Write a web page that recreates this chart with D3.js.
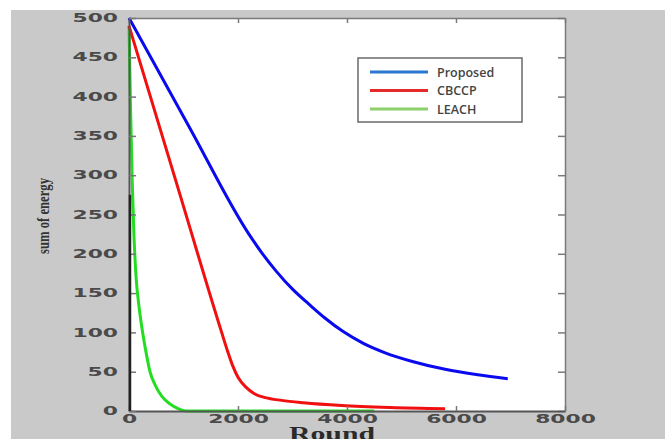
<!DOCTYPE html>
<html><head><meta charset="utf-8">
<script src="https://cdn.jsdelivr.net/npm/d3@7/dist/d3.min.js"></script>
<style>body{margin:0;background:#fff}svg{display:block}</style>
</head><body>
<svg id="c" width="665" height="439"></svg>
<script>
// ---- data ----
const seriesNames = ["Proposed", "CBCCP", "LEACH"];
const proposedRound = [0, 1100, 2200, 2450, 2700, 3000, 3300, 3600, 3930, 4300, 4700, 5200, 5800, 6400, 6950];
const proposedEnergy = [500, 362, 225, 200, 178, 155, 136, 118, 101, 86, 74, 63, 53, 46, 41];
const cbccpRound = [0, 850, 1700, 1800, 1900, 2000, 2150, 2300, 2500, 2800, 3200, 3900, 4800, 5800];
const cbccpEnergy = [490, 295, 100, 78, 58, 43, 30, 22, 17, 13.5, 10.5, 7, 4.5, 3];
const leachRound = [0, 30, 60, 90, 130, 180, 250, 320, 385, 480, 600, 750, 900, 1050, 4500];
const leachEnergy = [490, 380, 290, 225, 170, 135, 100, 72, 50, 33, 19, 9, 3, 0, 0];
const markRound = [0, 0];
const markEnergy = [275, 0];
const xTicks = [0, 2000, 4000, 6000, 8000];
const yTicks = [0, 50, 100, 150, 200, 250, 300, 350, 400, 450, 500];
const xTitle = "Round";
const yTitle = "sum of energy";

const svg = d3.select("#c");
const x = d3.scaleLinear().domain([0, 8000]).range([129, 565]);
const y = d3.scaleLinear().domain([0, 500]).range([411, 18]);

// background panel
svg.append("rect").attr("x", 11).attr("y", 10).attr("width", 654).attr("height", 429).attr("fill", "#c9c9c9");
svg.append("rect").attr("x", x(0)).attr("y", y(500)).attr("width", x(8000) - x(0)).attr("height", y(0) - y(500)).attr("fill", "#fff");

const line = d3.line().x(d => x(d[0])).y(d => y(d[1])).curve(d3.curveMonotoneX);
const zip = (a, b) => a.map((v, i) => [v, b[i]]);
const series = [
  {name: seriesNames[0], pts: zip(proposedRound, proposedEnergy), color: "#0a0aef", legend: "#2a78d0"},
  {name: seriesNames[1], pts: zip(cbccpRound, cbccpEnergy), color: "#f01010", legend: "#e42a2a"},
  {name: seriesNames[2], pts: zip(leachRound, leachEnergy), color: "#22dd22", legend: "#8ed06c"}
];

// frame axes top/right
const gTop = svg.append("g").attr("transform", `translate(0,${y(500)})`)
  .call(d3.axisTop(x).tickValues(xTicks).tickSizeInner(-5).tickSizeOuter(0).tickFormat(""));
const gRight = svg.append("g").attr("transform", `translate(${x(8000)},0)`)
  .call(d3.axisRight(y).tickValues(yTicks).tickSizeInner(-7).tickSizeOuter(0).tickFormat(""));
[gTop, gRight].forEach(g => { g.selectAll("path,line").attr("stroke", "#7a7a7a").attr("stroke-width", 1.5); });

// lines (LEACH under, then CBCCP, then Proposed)
[series[2], series[1], series[0]].forEach(s => {
  svg.append("path").datum(s.pts).attr("d", line).attr("fill", "none")
    .attr("stroke", s.color).attr("stroke-width", 3).attr("stroke-linejoin", "round");
});

// bottom / left axes
const sx = 1.9;
const gx = svg.append("g").attr("transform", `translate(0,${y(0)})`)
  .call(d3.axisBottom(x).tickValues(xTicks).tickSizeInner(-5).tickSizeOuter(0).tickPadding(4).tickFormat(d3.format("d")));
const gy = svg.append("g").attr("transform", `translate(${x(0)},0)`)
  .call(d3.axisLeft(y).tickValues(yTicks).tickSizeInner(-7).tickSizeOuter(0).tickPadding(10).tickFormat(d3.format("d")));
[gx, gy].forEach(g => {
  g.select(".domain").attr("stroke", "#555").attr("stroke-width", 2);
  g.selectAll(".tick line").attr("stroke", "#777").attr("stroke-width", 1.5);
  g.selectAll(".tick text").attr("fill", "#4a4a4a").attr("font-family", "DejaVu Sans").attr("font-weight", "bold").attr("font-size", 11.5);
});
gx.selectAll(".tick text").attr("transform", `scale(${sx},1)`).attr("x", 0);
gy.selectAll(".tick text").attr("transform", `scale(${sx},1)`).attr("x", -11 / sx);

// dark mark near the y axis
svg.append("path").datum(zip(markRound, markEnergy)).attr("d", d3.line().x(d => x(d[0]) + 1).y(d => y(d[1])))
  .attr("stroke", "#222").attr("stroke-width", 2.5).attr("fill", "none");

// axis titles
svg.append("text").attr("x", 332).attr("y", 440).attr("text-anchor", "middle")
  .attr("font-family", "Liberation Serif").attr("font-weight", "bold").attr("font-size", 18)
  .attr("fill", "#2a2a2a").attr("textLength", 86).attr("lengthAdjust", "spacingAndGlyphs").text(xTitle);
svg.append("text").attr("transform", "translate(49,216) rotate(-90)").attr("text-anchor", "middle")
  .attr("font-family", "Liberation Serif").attr("font-weight", "bold").attr("font-size", 17).attr("fill", "#333")
  .attr("textLength", 76).attr("lengthAdjust", "spacingAndGlyphs").text(yTitle);

// legend
const lg = svg.append("g");
lg.append("rect").attr("x", 358).attr("y", 58).attr("width", 164).attr("height", 64)
  .attr("fill", "#fff").attr("stroke", "#6a6a6a").attr("stroke-width", 1.5);
series.forEach((s, i) => {
  const yy = 72 + i * 18.5;
  lg.append("line").attr("x1", 370).attr("x2", 428).attr("y1", yy).attr("y2", yy)
    .attr("stroke", s.legend).attr("stroke-width", 3);
  lg.append("text").attr("x", 437).attr("y", yy + 4.5).attr("font-family", "Open Sans").attr("font-weight", 600)
    .attr("font-size", 12.5).attr("fill", "#444").text(s.name);
});
</script>
</body></html>
